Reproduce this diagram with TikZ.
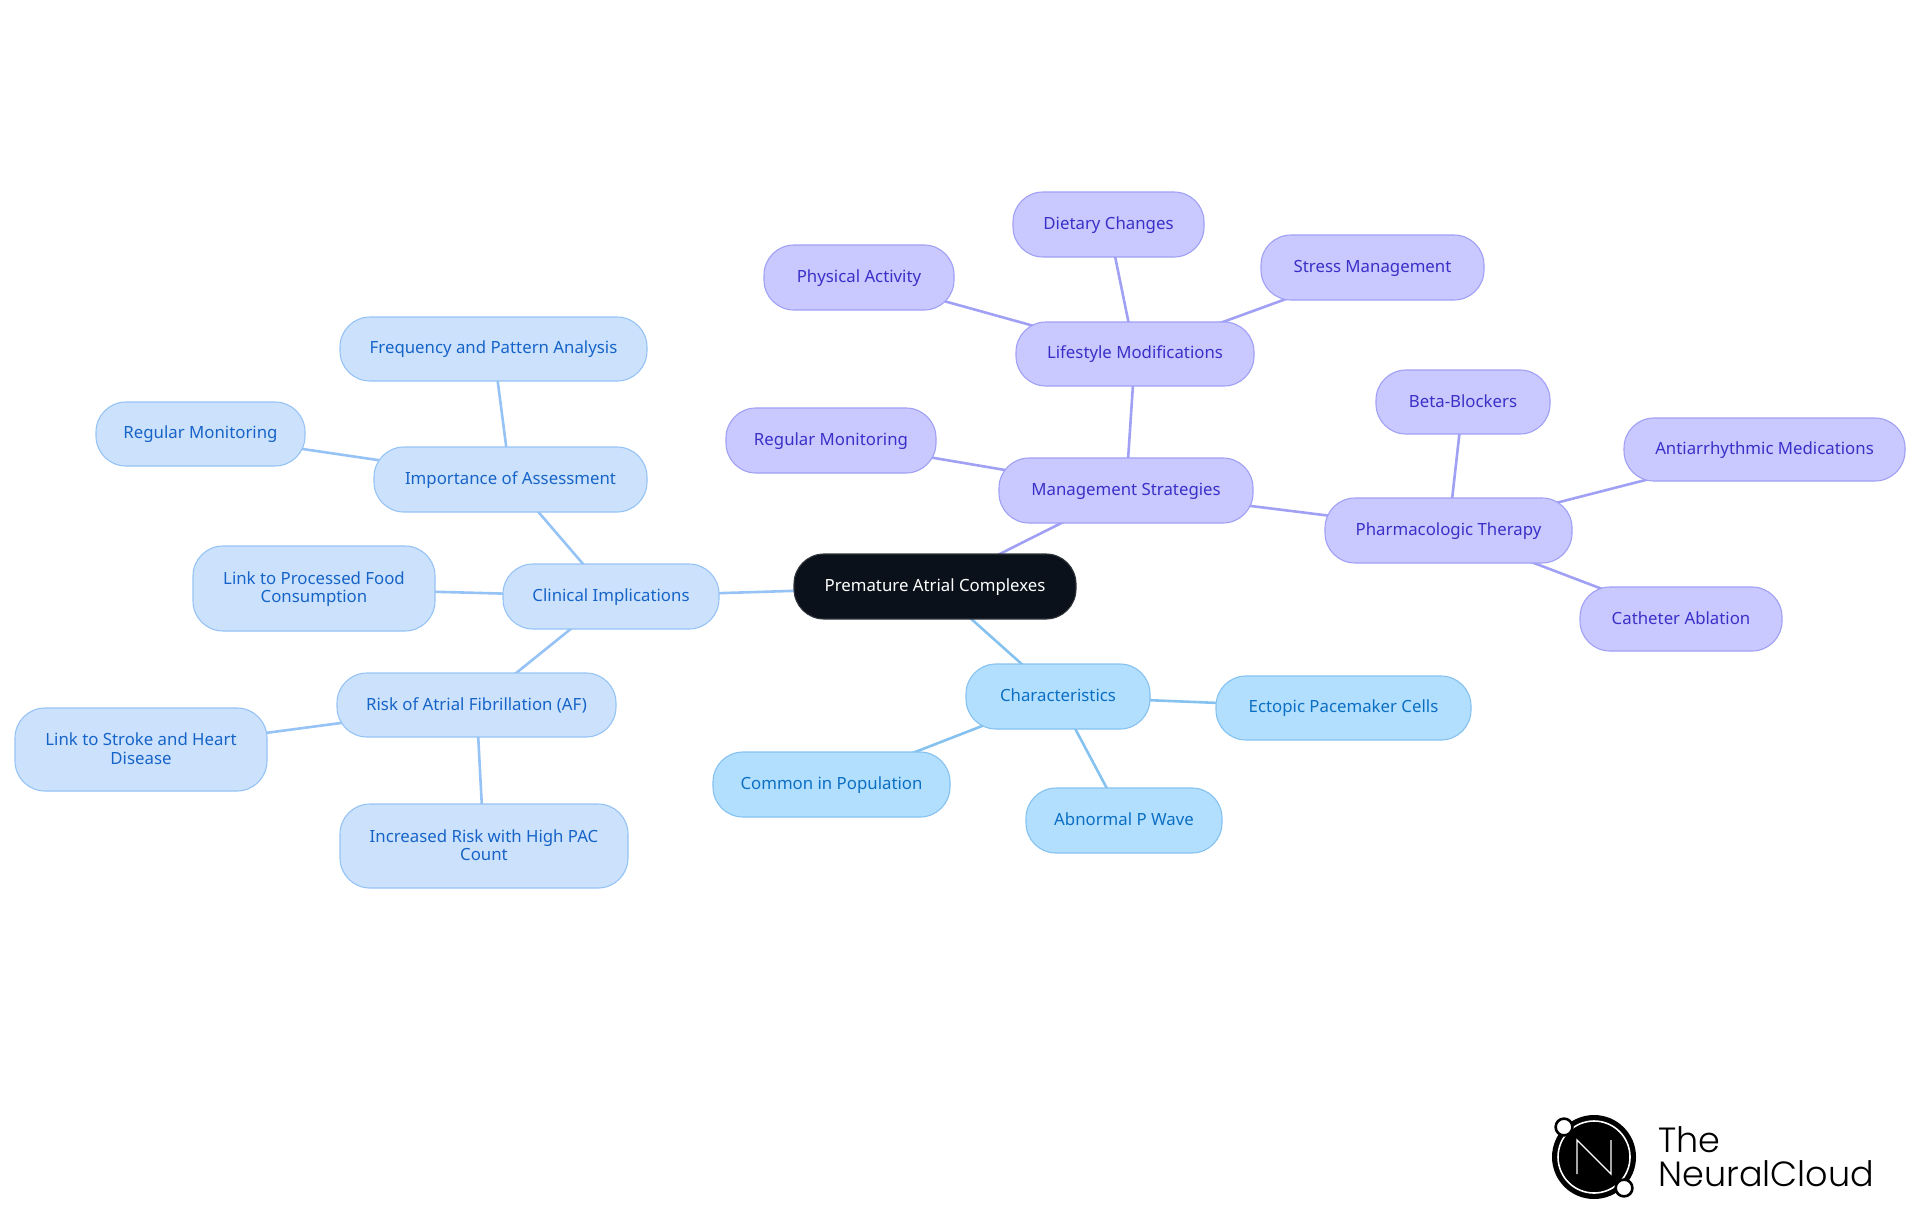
\documentclass[tikz,border=0pt]{standalone}
\usepackage{fontspec}
\setmainfont{Noto Sans}
\newfontfamily\logofont{Poppins Light}
\usetikzlibrary{backgrounds}
\definecolor{bfill}{HTML}{B3DFFF}
\definecolor{bline}{HTML}{85C2F0}
\definecolor{btext}{HTML}{0B6FC2}
\definecolor{lfill}{HTML}{CCE2FC}
\definecolor{lline}{HTML}{96C3F5}
\definecolor{ltext}{HTML}{1764C8}
\definecolor{pfill}{HTML}{C9C9FF}
\definecolor{pline}{HTML}{A0A0F5}
\definecolor{ptext}{HTML}{3A30C8}
\definecolor{rootfill}{HTML}{0B111A}
\tikzset{
  x=0.5pt,y=-0.5pt,
  mapnode/.style={rectangle,rounded corners=15pt,inner sep=0pt,line width=0.55pt,align=center,
    font=\fontsize{8.4pt}{9.2pt}\selectfont},
  rootnode/.style={mapnode,fill=rootfill,draw=rootfill!85!white,text=white},
  bnode/.style={mapnode,fill=bfill,draw=bline,text=btext},
  lnode/.style={mapnode,fill=lfill,draw=lline,text=ltext},
  pnode/.style={mapnode,fill=pfill,draw=pline,text=ptext},
  bedge/.style={draw=bline,line width=1.3pt},
  ledge/.style={draw=lline,line width=1.3pt},
  pedge/.style={draw=pline,line width=1.3pt},
  logotext/.style={inner sep=0pt,anchor=base west,text=black,font=\logofont\fontsize{17.5pt}{18pt}\selectfont},
}
\newcommand{\labelstrut}{\rule[-1.68pt]{0pt}{8.68pt}}
\newcommand{\mapbox}[7]{% style name x0 x1 y0 y1 text
  \node[#1,minimum width={(#4-#3)*0.5pt},minimum height={(#6-#5)*0.5pt}] (#2) at ({(#3+#4)/2},{(#5+#6)/2}) {\labelstrut #7\labelstrut};}
\begin{document}
\begin{tikzpicture}
\useasboundingbox (0,0) rectangle (1920,1215);
\mapbox{rootnode}{root}{794}{1076}{554}{619}{Premature Atrial Complexes}
\mapbox{bnode}{chars}{966}{1150}{664}{729}{Characteristics}
\mapbox{bnode}{ectopic}{1216}{1471}{676}{740}{Ectopic Pacemaker Cells}
\mapbox{bnode}{common}{713}{950}{752}{817}{Common in Population}
\mapbox{bnode}{abnormal}{1026}{1222}{788}{853}{Abnormal P Wave}
\mapbox{lnode}{clinical}{503}{719}{564}{629}{Clinical Implications}
\mapbox{lnode}{importance}{374}{647}{447}{512}{Importance of Assessment}
\mapbox{lnode}{frequency}{340}{647}{317}{381}{Frequency and Pattern Analysis}
\mapbox{lnode}{regl}{96}{305}{402}{466}{Regular Monitoring}
\mapbox{lnode}{processed}{193}{435}{546}{631}{Link to Processed Food\\Consumption}
\mapbox{lnode}{risk}{337}{616}{673}{737}{Risk of Atrial Fibrillation (AF)}
\mapbox{lnode}{stroke}{15}{267}{708}{791}{Link to Stroke and Heart\\Disease}
\mapbox{lnode}{increased}{340}{628}{804}{888}{Increased Risk with High PAC\\Count}
\mapbox{pnode}{management}{999}{1253}{458}{523}{Management Strategies}
\mapbox{pnode}{regr}{726}{936}{408}{473}{Regular Monitoring}
\mapbox{pnode}{lifestyle}{1016}{1254}{322}{386}{Lifestyle Modifications}
\mapbox{pnode}{physical}{764}{954}{245}{310}{Physical Activity}
\mapbox{pnode}{dietary}{1013}{1204}{192}{257}{Dietary Changes}
\mapbox{pnode}{stress}{1261}{1484}{235}{300}{Stress Management}
\mapbox{pnode}{pharm}{1325}{1572}{498}{563}{Pharmacologic Therapy}
\mapbox{pnode}{beta}{1376}{1550}{370}{434}{Beta-Blockers}
\mapbox{pnode}{antiarr}{1624}{1905}{418}{481}{Antiarrhythmic Medications}
\mapbox{pnode}{catheter}{1580}{1782}{587}{651}{Catheter Ablation}
\begin{scope}[on background layer]
\draw[bedge] (root.center) -- (chars.center);
\draw[bedge] (chars.center) -- (ectopic.center);
\draw[bedge] (chars.center) -- (common.center);
\draw[bedge] (chars.center) -- (abnormal.center);
\draw[ledge] (root.center) -- (clinical.center);
\draw[ledge] (clinical.center) -- (importance.center);
\draw[ledge] (importance.center) -- (frequency.center);
\draw[ledge] (importance.center) -- (regl.center);
\draw[ledge] (clinical.center) -- (processed.center);
\draw[ledge] (clinical.center) -- (risk.center);
\draw[ledge] (risk.center) -- (stroke.center);
\draw[ledge] (risk.center) -- (increased.center);
\draw[pedge] (root.center) -- (management.center);
\draw[pedge] (management.center) -- (regr.center);
\draw[pedge] (management.center) -- (lifestyle.center);
\draw[pedge] (lifestyle.center) -- (physical.center);
\draw[pedge] (lifestyle.center) -- (dietary.center);
\draw[pedge] (lifestyle.center) -- (stress.center);
\draw[pedge] (management.center) -- (pharm.center);
\draw[pedge] (pharm.center) -- (beta.center);
\draw[pedge] (pharm.center) -- (antiarr.center);
\draw[pedge] (pharm.center) -- (catheter.center);
\end{scope}
% logo
\fill[black] (1594,1157) circle[radius=21pt];
\draw[white,line width=0.8pt] (1594,1157) circle[radius=18pt];
\draw[white,line width=0.7pt,line join=miter] (1577,1174) -- (1577,1140) -- (1611,1174) -- (1611,1140);
\draw[black,fill=white,line width=1.3pt] (1564,1127) circle[radius=4.2pt];
\draw[black,fill=white,line width=1.3pt] (1624,1188) circle[radius=4.2pt];
\node[logotext] (the) at (1658,1152) {The};
\node[logotext] (neural) at (1658,1186) {NeuralCloud};
\end{tikzpicture}
\end{document}
